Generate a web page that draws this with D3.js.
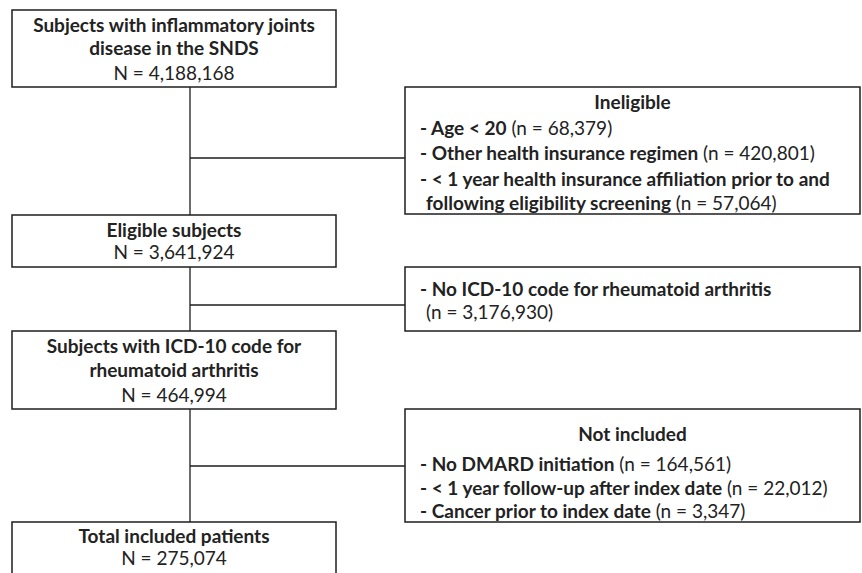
<!DOCTYPE html>
<html>
<head>
<meta charset="utf-8">
<script src="https://cdn.jsdelivr.net/npm/d3@7"></script>
<style>
  body { margin: 0; background: #fff; }
  svg text { font-family: Lato, "Open Sans", sans-serif; fill: #222; }
</style>
</head>
<body>
<div id="chart"></div>
<script>
// main flow boxes (title lines + count)
var mainTitles = [
  ["Subjects with inflammatory joints", "disease in the SNDS"],
  ["Eligible subjects"],
  ["Subjects with ICD-10 code for", "rheumatoid arthritis"],
  ["Total included patients"]
];
var mainCounts = [4188168, 3641924, 464994, 275074];

// exclusion boxes
var exclTitles = ["Ineligible", "", "Not included"];
var exclReasons = [
  ["Age < 20", "Other health insurance regimen", "< 1 year health insurance affiliation prior to and|following eligibility screening"],
  ["No ICD-10 code for rheumatoid arthritis|"],
  ["No DMARD initiation", "< 1 year follow-up after index date", "Cancer prior to index date"]
];
var exclCounts = [
  [68379, 420801, 57064],
  [3176930],
  [164561, 22012, 3347]
];

var width = 862, height = 573;
var fmt = d3.format(",");
var fontSize = "19px";

// layout of the boxes (pixels)
var mainBox = { x0: 12, x1: 336 };
var mainRows = [
  { y0: 10, y1: 87, lines: [25, 48, 73] },
  { y0: 215, y1: 267, lines: [230, 252] },
  { y0: 331, y1: 409, lines: [346, 370, 395] },
  { y0: 522, y1: 590, lines: [536, 558] }
];
var exclBox = { x0: 405, x1: 860, textX: 420, indent: 426 };
var exclRows = [
  { y0: 87, y1: 214, link: 158, title: 102, lines: [128, 153, 179, 203] },
  { y0: 267, y1: 331, link: 305, title: null, lines: [289, 312] },
  { y0: 409, y1: 522, link: 466, title: 434, lines: [464, 488, 511] }
];
var spineX = 190;

var svg = d3.select("#chart").append("svg")
  .attr("width", width)
  .attr("height", height);

var lineColor = "#1e1e1e";

// vertical spine
svg.append("line")
  .attr("x1", spineX).attr("x2", spineX)
  .attr("y1", mainRows[0].y1).attr("y2", mainRows[3].y0)
  .attr("stroke", lineColor).attr("stroke-width", 1.3);

// side connectors
exclRows.forEach(function(r) {
  svg.append("line")
    .attr("x1", spineX).attr("x2", exclBox.x0)
    .attr("y1", r.link).attr("y2", r.link)
    .attr("stroke", lineColor).attr("stroke-width", 1.3);
});

// main boxes
mainRows.forEach(function(r, i) {
  svg.append("rect")
    .attr("x", mainBox.x0).attr("y", r.y0)
    .attr("width", mainBox.x1 - mainBox.x0).attr("height", r.y1 - r.y0)
    .attr("fill", "#fff").attr("stroke", lineColor).attr("stroke-width", 1.5);
  var cx = (mainBox.x0 + mainBox.x1) / 2;
  var texts = mainTitles[i].concat(["N = " + fmt(mainCounts[i])]);
  texts.forEach(function(t, j) {
    svg.append("text")
      .attr("x", cx).attr("y", r.lines[j])
      .attr("dy", "0.35em")
      .attr("text-anchor", "middle")
      .style("font-size", fontSize)
      .style("font-weight", j < texts.length - 1 ? "bold" : "normal")
      .text(t);
  });
});

// exclusion boxes
exclRows.forEach(function(r, i) {
  svg.append("rect")
    .attr("x", exclBox.x0).attr("y", r.y0)
    .attr("width", exclBox.x1 - exclBox.x0).attr("height", r.y1 - r.y0)
    .attr("fill", "#fff").attr("stroke", lineColor).attr("stroke-width", 1.5);
  if (exclTitles[i]) {
    svg.append("text")
      .attr("x", (exclBox.x0 + exclBox.x1) / 2).attr("y", r.title)
      .attr("dy", "0.35em")
      .attr("text-anchor", "middle")
      .style("font-size", fontSize).style("font-weight", "bold")
      .text(exclTitles[i]);
  }
  var li = 0;
  exclReasons[i].forEach(function(reason, k) {
    var parts = reason.split("|");
    parts.forEach(function(p, m) {
      var last = m === parts.length - 1;
      var t = svg.append("text")
        .attr("x", m === 0 ? exclBox.textX : exclBox.indent)
        .attr("y", r.lines[li++])
        .attr("dy", "0.35em")
        .style("font-size", fontSize);
      if (p) {
        t.append("tspan").style("font-weight", "bold").text((m === 0 ? "- " : "") + p);
      }
      if (last) {
        t.append("tspan").text((p ? " " : "") + "(n = " + fmt(exclCounts[i][k]) + ")");
      }
    });
  });
});
</script>
</body>
</html>
